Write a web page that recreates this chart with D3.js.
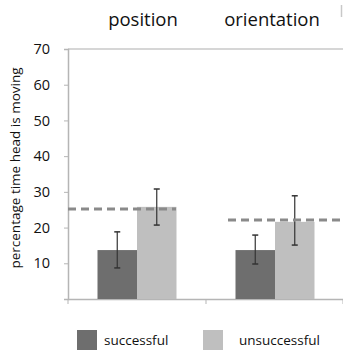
<!DOCTYPE html>
<html>
<head>
<meta charset="utf-8">
<script src="https://cdn.jsdelivr.net/npm/d3@7"></script>
<style>
  body { margin: 0; background: #fff; }
  svg { display: block; }
  text { font-family: "Open Sans", "Noto Sans", sans-serif; fill: #111; }
</style>
</head>
<body>
<div id="container"></div>
<script>
// data
const categories = ["position", "orientation"];
const seriesNames = ["successful", "unsuccessful"];
const successful = [13.7, 13.7];
const unsuccessful = [25.8, 21.6];
const successfulErr = [[8.7, 18.8], [9.8, 17.9]];
const unsuccessfulErr = [[20.7, 30.8], [15.1, 28.9]];
const chanceLevel = [25.2, 22.1];
const yTicks = [10, 20, 30, 40, 50, 60, 70];

const width = 343, height = 350;
const plotLeft = 68, plotRight = 344, plotTop = 49, plotBottom = 299;
const colors = ["#6e6e6e", "#bfbfbf"];

const svg = d3.select("#container").append("svg")
  .attr("width", width)
  .attr("height", height);

//----- scales
const x = d3.scaleBand().domain(categories).range([plotLeft, plotRight]);
const inner = d3.scaleBand().domain(seriesNames).range([0, 79]);
const y = d3.scaleLinear().domain([0, 70]).range([plotBottom, plotTop]);

//----- frame + axes
svg.append("line")
  .attr("x1", plotLeft).attr("x2", plotRight)
  .attr("y1", plotTop).attr("y2", plotTop)
  .attr("stroke", "#c8c8c8").attr("stroke-width", 1.5);

svg.append("line")
  .attr("x1", 341.5).attr("x2", 341.5)
  .attr("y1", 5).attr("y2", 17)
  .attr("stroke", "#c8c8c8").attr("stroke-width", 1.5);

const yAxis = svg.append("g")
  .attr("transform", "translate(" + plotLeft + ",0)")
  .call(d3.axisLeft(y).tickValues([0].concat(yTicks)).tickSize(4).tickPadding(14).tickFormat(d => d === 0 ? "" : d));
yAxis.select(".domain").attr("stroke", "#b5b5b5").attr("stroke-width", 1.5);
yAxis.selectAll(".tick line").attr("stroke", "#b5b5b5");
yAxis.selectAll(".tick text")
  .style("font-size", "14.5px").attr("fill", "#111")
  .style("font-family", "'Open Sans', sans-serif");

const xAxis = svg.append("g")
  .attr("transform", "translate(0," + plotBottom + ")")
  .call(d3.axisBottom(x).tickSize(0).tickFormat(""));
xAxis.select(".domain").attr("stroke", "#b5b5b5").attr("stroke-width", 1.5);

// category separators below the baseline
svg.selectAll(".sep")
  .data([plotLeft, x(categories[1]), plotRight - 1])
  .enter().append("line")
  .attr("x1", d => d).attr("x2", d => d)
  .attr("y1", plotBottom).attr("y2", plotBottom + 5)
  .attr("stroke", "#b5b5b5");

//----- bars
const groups = svg.selectAll(".cat")
  .data(categories)
  .enter().append("g")
  .attr("transform", d => "translate(" + (x(d) + (x.bandwidth() - 79) / 2) + ",0)");

const values = [successful, unsuccessful];
const errs = [successfulErr, unsuccessfulErr];

seriesNames.forEach((s, si) => {
  groups.append("rect")
    .attr("x", inner(s))
    .attr("width", inner.bandwidth())
    .attr("y", (d, i) => y(values[si][i]))
    .attr("height", (d, i) => plotBottom - y(values[si][i]))
    .attr("fill", colors[si]);
});

// error bars
seriesNames.forEach((s, si) => {
  const cx = inner(s) + inner.bandwidth() / 2;
  groups.append("line")
    .attr("x1", cx).attr("x2", cx)
    .attr("y1", (d, i) => y(errs[si][i][0]))
    .attr("y2", (d, i) => y(errs[si][i][1]))
    .attr("stroke", "#333").attr("stroke-width", 1.2);
  [0, 1].forEach(k => {
    groups.append("line")
      .attr("x1", cx - 3).attr("x2", cx + 3)
      .attr("y1", (d, i) => y(errs[si][i][k]))
      .attr("y2", (d, i) => y(errs[si][i][k]))
      .attr("stroke", "#333").attr("stroke-width", 1.5);
  });
});

// dashed reference levels
const dashSpans = [[plotLeft, 176], [228, plotRight]];
svg.selectAll(".chance")
  .data(chanceLevel)
  .enter().append("line")
  .attr("x1", (d, i) => dashSpans[i][0])
  .attr("x2", (d, i) => dashSpans[i][1])
  .attr("y1", d => y(d)).attr("y2", d => y(d))
  .attr("stroke", "#8a8a8a")
  .attr("stroke-width", 3)
  .attr("stroke-dasharray", "8,5");

//----- titles
const titleShift = [6, -3];
svg.selectAll(".title")
  .data(categories)
  .enter().append("text")
  .attr("x", (d, i) => x(d) + x.bandwidth() / 2 + titleShift[i])
  .attr("y", 26)
  .attr("text-anchor", "middle")
  .style("font-size", "18.5px")
  .text(d => d);

// y label
svg.append("text")
  .attr("transform", "translate(20,168) rotate(-90)")
  .attr("text-anchor", "middle")
  .style("font-size", "13.5px")
  .text("percentage time head is moving");

//----- legend
const legendX = [77, 203];
const legend = svg.selectAll(".legend")
  .data(seriesNames)
  .enter().append("g")
  .attr("transform", (d, i) => "translate(" + legendX[i] + ",330)");

legend.append("rect")
  .attr("width", 20).attr("height", 20)
  .attr("fill", (d, i) => colors[i]);

legend.append("text")
  .attr("x", (d, i) => i === 0 ? 27 : 36)
  .attr("y", 15)
  .style("font-size", "13.5px")
  .text(d => d);
</script>
</body>
</html>
